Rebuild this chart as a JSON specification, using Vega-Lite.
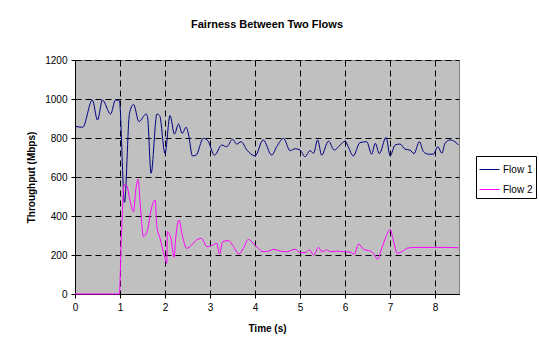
{
  "$schema": "https://vega.github.io/schema/vega-lite/v6.json",
  "autosize": "none",
  "width": 384,
  "height": 234,
  "padding": {"left": 75, "top": 60, "right": 80, "bottom": 53},
  "background": "white",
  "title": {"text": "Fairness Between Two Flows", "font": "Liberation Sans", "fontSize": 11, "fontWeight": "bold", "color": "black", "offset": 25, "anchor": "middle"},
  "config": {
    "view": {"fill": "#C0C0C0", "stroke": "#808080", "strokeWidth": 1},
    "axis": {"labelFont": "Liberation Sans", "labelFontSize": 10, "labelColor": "black", "labelFlush": false, "titleFont": "Liberation Sans", "titleFontSize": 10, "titleFontWeight": "bold", "titleColor": "black", "domainColor": "black", "tickColor": "black", "tickSize": 4, "gridColor": "black", "gridDash": [6, 4], "gridOpacity": 1, "gridWidth": 1}
  },
  "datasets": {
    "flows": [
      {"t": 0, "v": 860, "flow": "Flow 1"}, {"t": 0.17, "v": 855, "flow": "Flow 1"}, {"t": 0.385, "v": 995, "flow": "Flow 1"}, {"t": 0.5, "v": 892, "flow": "Flow 1"}, {"t": 0.61, "v": 995, "flow": "Flow 1"}, {"t": 0.79, "v": 923, "flow": "Flow 1"}, {"t": 0.9, "v": 995, "flow": "Flow 1"}, {"t": 0.985, "v": 990, "flow": "Flow 1"}, {"t": 1.1, "v": 470, "flow": "Flow 1"}, {"t": 1.21, "v": 926, "flow": "Flow 1"}, {"t": 1.3, "v": 972, "flow": "Flow 1"}, {"t": 1.42, "v": 884, "flow": "Flow 1"}, {"t": 1.58, "v": 923, "flow": "Flow 1"}, {"t": 1.61, "v": 910, "flow": "Flow 1"}, {"t": 1.69, "v": 619, "flow": "Flow 1"}, {"t": 1.82, "v": 923, "flow": "Flow 1"}, {"t": 1.88, "v": 915, "flow": "Flow 1"}, {"t": 2.0, "v": 721, "flow": "Flow 1"}, {"t": 2.11, "v": 915, "flow": "Flow 1"}, {"t": 2.21, "v": 820, "flow": "Flow 1"}, {"t": 2.3, "v": 872, "flow": "Flow 1"}, {"t": 2.38, "v": 824, "flow": "Flow 1"}, {"t": 2.47, "v": 855, "flow": "Flow 1"}, {"t": 2.52, "v": 820, "flow": "Flow 1"}, {"t": 2.61, "v": 708, "flow": "Flow 1"}, {"t": 2.69, "v": 712, "flow": "Flow 1"}, {"t": 2.85, "v": 798, "flow": "Flow 1"}, {"t": 2.95, "v": 786, "flow": "Flow 1"}, {"t": 3.1, "v": 712, "flow": "Flow 1"}, {"t": 3.26, "v": 764, "flow": "Flow 1"}, {"t": 3.37, "v": 755, "flow": "Flow 1"}, {"t": 3.5, "v": 793, "flow": "Flow 1"}, {"t": 3.59, "v": 769, "flow": "Flow 1"}, {"t": 3.69, "v": 781, "flow": "Flow 1"}, {"t": 3.82, "v": 738, "flow": "Flow 1"}, {"t": 4.0, "v": 708, "flow": "Flow 1"}, {"t": 4.18, "v": 790, "flow": "Flow 1"}, {"t": 4.37, "v": 712, "flow": "Flow 1"}, {"t": 4.48, "v": 755, "flow": "Flow 1"}, {"t": 4.63, "v": 798, "flow": "Flow 1"}, {"t": 4.78, "v": 735, "flow": "Flow 1"}, {"t": 4.89, "v": 745, "flow": "Flow 1"}, {"t": 5.0, "v": 738, "flow": "Flow 1"}, {"t": 5.11, "v": 704, "flow": "Flow 1"}, {"t": 5.22, "v": 735, "flow": "Flow 1"}, {"t": 5.3, "v": 722, "flow": "Flow 1"}, {"t": 5.39, "v": 790, "flow": "Flow 1"}, {"t": 5.48, "v": 712, "flow": "Flow 1"}, {"t": 5.63, "v": 784, "flow": "Flow 1"}, {"t": 5.76, "v": 738, "flow": "Flow 1"}, {"t": 5.89, "v": 764, "flow": "Flow 1"}, {"t": 6.0, "v": 784, "flow": "Flow 1"}, {"t": 6.07, "v": 755, "flow": "Flow 1"}, {"t": 6.18, "v": 708, "flow": "Flow 1"}, {"t": 6.33, "v": 776, "flow": "Flow 1"}, {"t": 6.48, "v": 781, "flow": "Flow 1"}, {"t": 6.59, "v": 717, "flow": "Flow 1"}, {"t": 6.67, "v": 773, "flow": "Flow 1"}, {"t": 6.76, "v": 720, "flow": "Flow 1"}, {"t": 6.91, "v": 803, "flow": "Flow 1"}, {"t": 7.0, "v": 708, "flow": "Flow 1"}, {"t": 7.11, "v": 764, "flow": "Flow 1"}, {"t": 7.22, "v": 769, "flow": "Flow 1"}, {"t": 7.33, "v": 743, "flow": "Flow 1"}, {"t": 7.44, "v": 738, "flow": "Flow 1"}, {"t": 7.53, "v": 720, "flow": "Flow 1"}, {"t": 7.65, "v": 781, "flow": "Flow 1"}, {"t": 7.74, "v": 730, "flow": "Flow 1"}, {"t": 7.85, "v": 717, "flow": "Flow 1"}, {"t": 7.96, "v": 717, "flow": "Flow 1"}, {"t": 8.06, "v": 755, "flow": "Flow 1"}, {"t": 8.15, "v": 722, "flow": "Flow 1"}, {"t": 8.22, "v": 773, "flow": "Flow 1"}, {"t": 8.33, "v": 790, "flow": "Flow 1"}, {"t": 8.44, "v": 781, "flow": "Flow 1"}, {"t": 8.52, "v": 764, "flow": "Flow 1"},
      {"t": 0, "v": 0, "flow": "Flow 2"}, {"t": 0.985, "v": 0, "flow": "Flow 2"}, {"t": 1.03, "v": 294, "flow": "Flow 2"}, {"t": 1.09, "v": 559, "flow": "Flow 2"}, {"t": 1.15, "v": 554, "flow": "Flow 2"}, {"t": 1.22, "v": 482, "flow": "Flow 2"}, {"t": 1.3, "v": 422, "flow": "Flow 2"}, {"t": 1.35, "v": 533, "flow": "Flow 2"}, {"t": 1.4, "v": 588, "flow": "Flow 2"}, {"t": 1.46, "v": 425, "flow": "Flow 2"}, {"t": 1.52, "v": 294, "flow": "Flow 2"}, {"t": 1.61, "v": 328, "flow": "Flow 2"}, {"t": 1.69, "v": 431, "flow": "Flow 2"}, {"t": 1.78, "v": 482, "flow": "Flow 2"}, {"t": 1.82, "v": 345, "flow": "Flow 2"}, {"t": 1.89, "v": 285, "flow": "Flow 2"}, {"t": 1.98, "v": 200, "flow": "Flow 2"}, {"t": 2.04, "v": 157, "flow": "Flow 2"}, {"t": 2.05, "v": 320, "flow": "Flow 2"}, {"t": 2.13, "v": 285, "flow": "Flow 2"}, {"t": 2.2, "v": 188, "flow": "Flow 2"}, {"t": 2.24, "v": 294, "flow": "Flow 2"}, {"t": 2.31, "v": 379, "flow": "Flow 2"}, {"t": 2.39, "v": 294, "flow": "Flow 2"}, {"t": 2.48, "v": 234, "flow": "Flow 2"}, {"t": 2.59, "v": 251, "flow": "Flow 2"}, {"t": 2.7, "v": 277, "flow": "Flow 2"}, {"t": 2.81, "v": 285, "flow": "Flow 2"}, {"t": 2.93, "v": 243, "flow": "Flow 2"}, {"t": 3.06, "v": 251, "flow": "Flow 2"}, {"t": 3.15, "v": 260, "flow": "Flow 2"}, {"t": 3.21, "v": 205, "flow": "Flow 2"}, {"t": 3.28, "v": 268, "flow": "Flow 2"}, {"t": 3.41, "v": 274, "flow": "Flow 2"}, {"t": 3.52, "v": 243, "flow": "Flow 2"}, {"t": 3.64, "v": 205, "flow": "Flow 2"}, {"t": 3.74, "v": 234, "flow": "Flow 2"}, {"t": 3.85, "v": 280, "flow": "Flow 2"}, {"t": 3.96, "v": 260, "flow": "Flow 2"}, {"t": 4.07, "v": 234, "flow": "Flow 2"}, {"t": 4.18, "v": 217, "flow": "Flow 2"}, {"t": 4.33, "v": 222, "flow": "Flow 2"}, {"t": 4.41, "v": 229, "flow": "Flow 2"}, {"t": 4.56, "v": 220, "flow": "Flow 2"}, {"t": 4.7, "v": 217, "flow": "Flow 2"}, {"t": 4.89, "v": 229, "flow": "Flow 2"}, {"t": 5.0, "v": 212, "flow": "Flow 2"}, {"t": 5.11, "v": 212, "flow": "Flow 2"}, {"t": 5.21, "v": 226, "flow": "Flow 2"}, {"t": 5.3, "v": 200, "flow": "Flow 2"}, {"t": 5.41, "v": 239, "flow": "Flow 2"}, {"t": 5.48, "v": 217, "flow": "Flow 2"}, {"t": 5.59, "v": 226, "flow": "Flow 2"}, {"t": 5.68, "v": 217, "flow": "Flow 2"}, {"t": 5.82, "v": 220, "flow": "Flow 2"}, {"t": 5.96, "v": 217, "flow": "Flow 2"}, {"t": 6.11, "v": 215, "flow": "Flow 2"}, {"t": 6.2, "v": 203, "flow": "Flow 2"}, {"t": 6.3, "v": 256, "flow": "Flow 2"}, {"t": 6.41, "v": 229, "flow": "Flow 2"}, {"t": 6.56, "v": 220, "flow": "Flow 2"}, {"t": 6.63, "v": 208, "flow": "Flow 2"}, {"t": 6.72, "v": 179, "flow": "Flow 2"}, {"t": 6.82, "v": 239, "flow": "Flow 2"}, {"t": 6.91, "v": 294, "flow": "Flow 2"}, {"t": 7.0, "v": 332, "flow": "Flow 2"}, {"t": 7.07, "v": 277, "flow": "Flow 2"}, {"t": 7.16, "v": 209, "flow": "Flow 2"}, {"t": 7.26, "v": 217, "flow": "Flow 2"}, {"t": 7.41, "v": 237, "flow": "Flow 2"}, {"t": 7.67, "v": 239, "flow": "Flow 2"}, {"t": 7.96, "v": 239, "flow": "Flow 2"}, {"t": 8.26, "v": 239, "flow": "Flow 2"}, {"t": 8.52, "v": 237, "flow": "Flow 2"}
    ]
  },
  "data": {"name": "flows"},
  "mark": {"type": "line", "interpolate": "monotone", "strokeWidth": 1},
  "encoding": {
    "x": {"field": "t", "type": "quantitative", "scale": {"domain": [0, 8.53], "nice": false}, "axis": {"title": "Time (s)", "values": [0, 1, 2, 3, 4, 5, 6, 7, 8], "format": "d", "titlePadding": 11, "labelPadding": 4}},
    "y": {"field": "v", "type": "quantitative", "scale": {"domain": [0, 1200], "nice": false}, "axis": {"title": "Throughput (Mbps)", "values": [0, 200, 400, 600, 800, 1000, 1200], "format": "d", "titlePadding": 8, "labelPadding": 4}},
    "color": {"field": "flow", "type": "nominal", "scale": {"domain": ["Flow 1", "Flow 2"], "range": ["#000080", "#FF00FF"]},
      "legend": {"title": null, "orient": "none", "legendX": 401, "legendY": 96, "symbolType": "stroke", "symbolSize": 400, "symbolStrokeWidth": 1, "labelFont": "Liberation Sans", "labelFontSize": 10, "labelColor": "black", "strokeColor": "black", "fillColor": "white", "padding": 3, "rowPadding": 4, "labelOffset": 3}}
  }
}
